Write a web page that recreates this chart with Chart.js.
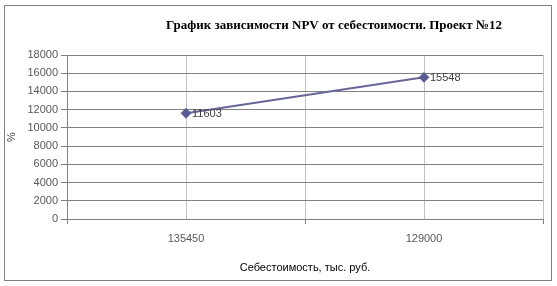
<!DOCTYPE html>
<html>
<head>
<meta charset="utf-8">
<script src="https://cdn.jsdelivr.net/npm/chart.js@4.4.0/dist/chart.umd.min.js"></script>
<style>
html,body{margin:0;padding:0;background:#fff;}
#wrap{width:557px;height:286px;position:relative;}
</style>
</head>
<body>
<div id="wrap"><canvas id="c" width="557" height="286"></canvas></div>
<script>
const categories = ['135450', '129000'];
const npvValues = [11603, 15548];
const yTicks = [0, 2000, 4000, 6000, 8000, 10000, 12000, 14000, 16000, 18000];
const chartTitle = 'График зависимости NPV от себестоимости. Проект №12';
const xTitle = 'Себестоимость, тыс. руб.';
const yTitle = '%';

const points = npvValues.map((v, i) => ({x: i, y: v}));

const framePlugin = {
  id: 'frame',
  beforeDraw(chart) {
    const ctx = chart.ctx;
    ctx.save();
    ctx.fillStyle = '#fff';
    ctx.fillRect(0, 0, chart.width, chart.height);
    ctx.restore();
  },
  afterDraw(chart) {
    const ctx = chart.ctx;
    ctx.save();
    ctx.strokeStyle = '#808080';
    ctx.lineWidth = 1;
    ctx.strokeRect(4.5, 5.5, 547, 275);
    ctx.fillStyle = '#000';
    ctx.font = 'bold 13px "Liberation Serif", "Times New Roman", serif';
    ctx.textAlign = 'center';
    ctx.textBaseline = 'middle';
    ctx.fillText(chartTitle, 334, 26);
    // data labels
    const meta = chart.getDatasetMeta(0);
    ctx.font = '11px "Liberation Sans", Arial, sans-serif';
    ctx.fillStyle = '#404040';
    ctx.textAlign = 'left';
    meta.data.forEach((el, i) => {
      ctx.fillText(String(npvValues[i]), el.x + 6, el.y + 1);
    });
    ctx.restore();
  }
};

new Chart(document.getElementById('c'), {
  type: 'line',
  data: {
    datasets: [{
      data: points,
      borderColor: '#666699',
      backgroundColor: '#5b5b96',
      pointBackgroundColor: '#5b5b96',
      pointBorderColor: '#5b5b96',
      borderWidth: 2,
      pointStyle: 'rectRot',
      pointRadius: 4,
      tension: 0
    }]
  },
  plugins: [framePlugin],
  options: {
    responsive: false,
    animation: false,
    layout: {padding: {top: 55, right: 14, bottom: 0, left: 0}},
    plugins: {legend: {display: false}, tooltip: {enabled: false}, title: {display: false}},
    scales: {
      x: {
        type: 'linear',
        min: -0.5,
        max: 1.5,
        afterBuildTicks(scale) {
          scale.ticks = [-0.5, 0, 0.5, 1, 1.5].map(v => ({value: v}));
        },
        afterFit(scale) { scale.height = 67; },
        ticks: {
          autoSkip: false,
          maxRotation: 0,
          padding: 8,
          color: '#595959',
          font: {family: '"Liberation Sans", Arial, sans-serif', size: 11},
          callback: (v) => (Number.isInteger(v) && categories[v] !== undefined) ? categories[v] : ''
        },
        grid: {
          color: '#c0c0c0',
          lineWidth: 1,
          drawTicks: true,
          tickLength: 5,
          tickColor: (ctx) => (ctx.tick && Number.isInteger(ctx.tick.value)) ? 'rgba(0,0,0,0)' : '#808080'
        },
        border: {color: '#808080', width: 1},
        title: {
          display: true,
          text: xTitle,
          color: '#000',
          font: {family: '"Liberation Sans", Arial, sans-serif', size: 11},
          padding: {top: 0, bottom: 11}
        }
      },
      y: {
        min: 0,
        max: 18000,
        afterBuildTicks(scale) {
          scale.ticks = yTicks.map(v => ({value: v}));
        },
        afterFit(scale) { scale.width = 67; },
        ticks: {
          padding: 3,
          color: '#595959',
          font: {family: '"Liberation Sans", Arial, sans-serif', size: 11},
          callback: (v) => String(v)
        },
        grid: {
          color: '#808080',
          lineWidth: 1,
          drawTicks: true,
          tickLength: 6,
          tickColor: '#808080'
        },
        border: {color: '#808080', width: 1},
        title: {
          display: true,
          text: yTitle,
          color: '#404040',
          font: {family: '"Liberation Sans", Arial, sans-serif', size: 11},
          padding: {top: 5, bottom: 0}
        }
      }
    }
  }
});
</script>
</body>
</html>
